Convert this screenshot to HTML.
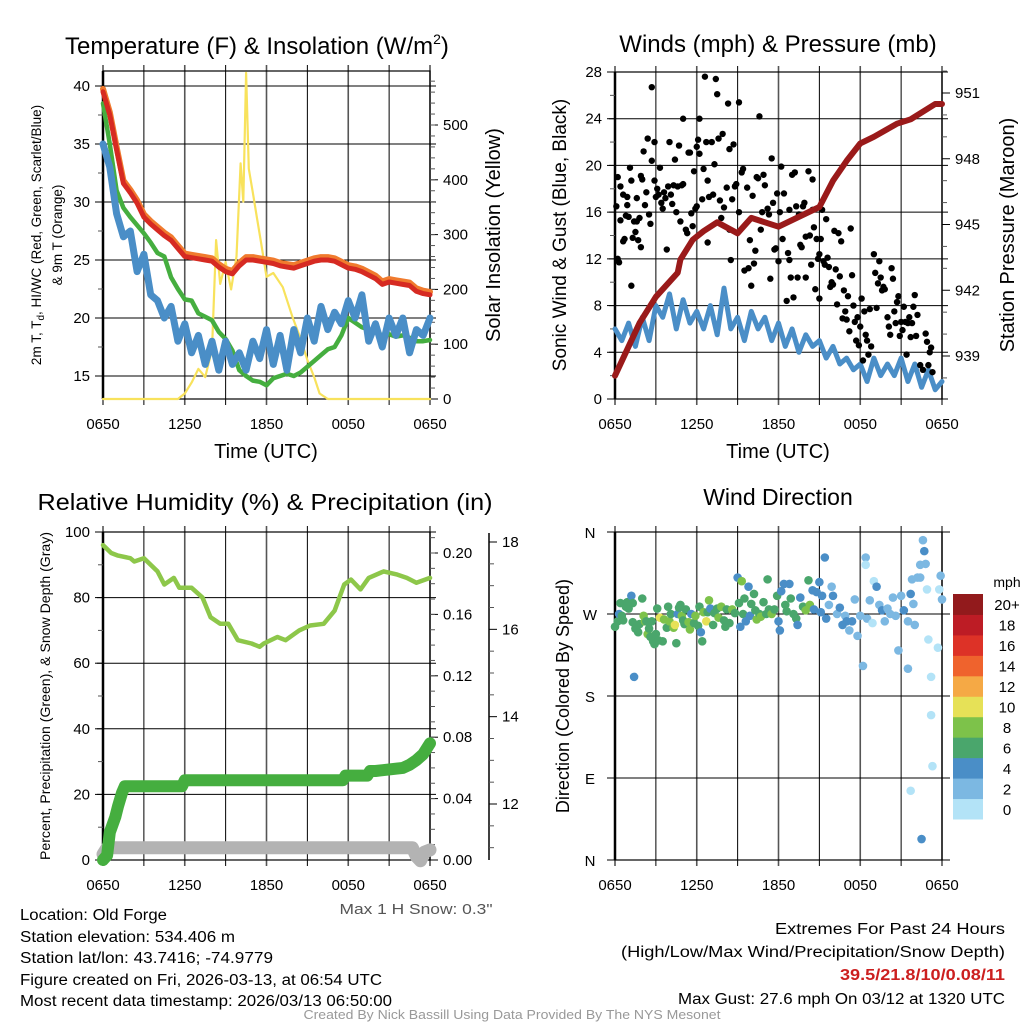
<!DOCTYPE html>
<html><head><meta charset="utf-8"><style>
html,body{margin:0;padding:0;background:#fff}
svg{display:block;font-family:"Liberation Sans",Arial,sans-serif}
</style></head><body>
<svg id="fig" xmlns="http://www.w3.org/2000/svg" width="1024" height="1024" viewBox="0 0 1024 1024"></svg>
<script>
// ===== Panel 1 data (hours since 0650 UTC) =====
const tHalf = [0,0.5,1,1.5,2,2.5,3,3.5,4,4.5,5,5.5,6,6.5,7,7.5,8,8.5,9,9.5,10,10.5,11,11.5,12,12.5,13,13.5,14,14.5,15,15.5,16,16.5,17,17.5,18,18.5,19,19.5,20,20.5,21,21.5,22,22.5,23,23.5,24];
const tempRed = [39.5,37.5,34.5,31.6,30.8,29.9,28.7,28.1,27.6,27.1,26.7,26.0,25.3,25.2,25.1,25.0,24.9,24.4,24.0,23.8,24.5,25.0,25.0,24.9,24.8,24.7,24.5,24.4,24.3,24.5,24.7,24.9,25.0,25.0,24.9,24.6,24.3,24.2,24.0,23.7,23.4,22.9,23.1,23.0,22.9,22.8,22.3,22.1,22.0];
const dewGreen = [38.5,35,31,29.5,28.7,28,27.3,26.5,25.6,25.3,23.5,22.5,21.6,21.5,20.4,20.1,19.8,18.8,18.2,17.2,15.5,15,14.6,14.5,14.2,14.8,15,15.2,15,15.3,15.8,16.3,16.8,17.3,17.5,18.5,20,19.6,19.2,19,18.8,18.5,18.6,18.4,18.5,18.3,18,18,18.1];
const wcBlue = [35,33,29,27,27.5,24,25.5,22,21.5,20,21,18,19.5,17,18.5,16,18,15.5,18,16,17,15.5,18,16.5,19,16,18.5,15.5,19,17,20,18,21,19,20.5,19.5,21.5,20,22,18,19.5,17.5,20,18.5,20,17,19,18.5,20];
const solarT = [0,5.5,6,6.5,7,7.5,8,8.3,8.6,9,9.4,9.8,10.1,10.3,10.5,10.7,11,11.3,11.6,12,12.5,13.2,13.9,14.5,15,15.5,15.9,16.5,24];
const solarV = [0,0,10,30,55,40,90,290,210,250,200,260,430,360,595,420,376,330,285,223,230,204,150,110,71,40,10,0,0];
// ===== Panel 2 data =====
const windBlue = [6,5,6.5,4.5,7,5,8,7,9,6,8.5,6.5,7.5,6,8,5.5,9.5,6,7,5,7.5,6,7,5,6.5,4.5,6,4,5.5,4.5,5,3.5,4.5,3,3.5,2.5,3,1.5,3.5,2,3,2,3.5,1.5,3,1,2.5,0.8,1.5];
const presT = [0,1.8,3,4.6,4.8,5.7,6.5,7.5,9,10,12,14,15,16,17,18,19,20.7,21.7,23.5,24];
const presV = [938.1,940.5,941.7,942.8,943.4,944.3,944.7,945.1,944.6,945.3,944.9,945.5,945.8,947.0,947.9,948.7,949.0,949.6,949.8,950.5,950.5];
const gustT = [0.1,0.2,0.2,0.3,0.4,0.4,0.6,0.7,0.6,0.8,0.9,0.9,1.0,1.1,1.2,1.2,1.3,1.4,1.5,1.6,1.6,1.7,1.8,1.9,1.9,2.0,2.1,2.2,2.3,2.4,2.5,2.6,2.7,2.7,2.9,2.9,3.0,3.1,3.2,3.3,3.4,3.5,3.6,3.7,3.8,3.9,4.0,4.1,4.2,4.3,4.4,4.5,4.6,4.7,4.8,4.9,5.0,5.0,5.2,5.3,5.4,5.5,5.6,5.7,5.8,5.9,6.0,6.0,6.1,6.2,6.2,6.4,6.5,6.6,6.7,6.8,6.8,6.9,7.1,7.2,7.3,7.4,7.5,7.6,7.7,7.8,7.9,8.0,8.2,8.3,8.4,8.4,8.5,8.6,8.7,8.8,8.9,9.1,9.1,9.3,9.4,9.5,9.7,9.8,9.9,10.0,10.1,10.2,10.3,10.4,10.5,10.6,10.7,10.8,10.9,11.0,11.2,11.3,11.4,11.5,11.6,11.7,11.8,11.9,12.0,12.1,12.2,12.3,12.4,12.6,12.7,12.8,12.8,12.9,13.0,13.1,13.2,13.3,13.4,13.5,13.6,13.7,13.8,13.9,14.0,14.0,14.2,14.3,14.4,14.5,14.5,14.6,14.7,14.8,14.9,15.0,15.0,15.1,15.2,15.3,15.4,15.5,15.6,15.7,15.8,15.9,16.0,16.1,16.2,16.3,16.4,16.5,16.6,16.7,16.8,16.9,17.0,17.1,17.2,17.3,17.4,17.5,17.6,17.7,17.8,17.9,18.0,18.1,18.2,18.3,18.4,18.5,18.6,18.7,18.8,19.0,19.1,19.2,19.3,19.4,19.5,19.6,19.7,19.8,20.0,20.1,20.2,20.3,20.4,20.5,20.6,20.7,20.8,20.9,21.0,21.1,21.2,21.3,21.4,21.5,21.6,21.7,21.8,21.9,22.0,22.1,22.2,22.4,22.6,22.8,22.9,23.0,23.1,23.2,23.3];
const gustV = [16.5,19,12,11.7,15.3,18.2,13.5,13.7,17.5,15.7,16.6,17.3,15.6,19.8,18.7,9.7,13.8,15.2,14.3,17.2,15.2,13.6,15.5,13,19.1,18.8,21.2,16.6,17.7,22.3,15.8,15,26.7,20.4,18.7,22,17.3,18,17.5,19.8,16.8,16.3,17.7,17.2,12.8,18.2,22,17.5,16.7,18.3,20.5,16,18.2,21.7,15.2,18.3,18.4,24,14.5,14.2,21.1,21.1,15.9,14.8,19.5,16.3,16.5,21.6,22.2,24,21,17.1,19.7,27.6,22,18.7,13.4,17.3,22,17.5,20.1,27.4,26.1,22.3,17,15.5,22.7,16.4,18.1,25.3,14.5,21.4,11.9,17.1,21.8,18.2,18.4,25.4,16,19.4,19.7,11,18.1,11.2,13.6,9.7,17.4,11.6,12.7,19,18.9,24.2,14.5,16,19.2,18.3,16.3,15.8,10.3,20.6,16.8,12.8,12.9,17.6,11.8,16,19.9,13.7,17.6,8.4,12.5,11.9,16.2,10.4,19.2,8.7,19.4,16.5,10.4,15.8,13.2,13,16.5,16.8,10.4,13.9,19.5,14,11.5,16.2,18.8,14.7,9.4,13.7,12,12.4,8.6,13.7,16.2,11.8,11.5,15.4,12.1,11.3,9.6,10,9.8,14.4,11.1,8.1,14.2,10.5,13.5,6.9,9.3,7.5,6.8,8.8,5.8,14.6,10.6,8,6.6,5,7,4.6,6.2,8.6,3.3,7.5,5.5,5,3.8,7.7,4.5,12.4,10.8,7.8,9.9,11.8,10.4,9.3,9.6,9.4,7,6.2,5.5,11.2,10.3,7.5,6.5,8.3,8.8,5.4,6.6,5.9,7.9,6.6,3.8,6.5,7,5.3,6.5,7.9,8.9,5.4,7.2,2.9,2.5,5.6,4.9,2.9,4,4.4,2.3];
// ===== Panel 3 data =====
const rhT = [0,0.6,1.1,2.0,2.3,3.0,4,4.5,5.2,5.6,6.5,7.3,7.9,8.6,9.2,9.9,10.9,11.5,11.8,12.8,13.4,14.4,15.2,16.2,17.0,17.7,18.2,18.9,19.5,20.6,21.6,22.3,23.0,24];
const rhV = [96,93.6,92.8,92,91,92,88,84,86,83,83,80,74,72,72,67,66,65,66,68,67,70,71.5,72,76,84,85.5,82.5,86,88,87,86,84.5,86];
const precipT = [0,0.3,0.5,0.9,1.1,1.4,1.6,5.8,6.0,17.6,17.8,19.4,19.6,20.0,22.0,22.5,23.0,23.5,24];
const precipV = [0,0.003,0.018,0.028,0.035,0.044,0.048,0.048,0.052,0.052,0.055,0.055,0.058,0.058,0.060,0.062,0.065,0.069,0.076];
const snowT = [0,0.3,22.7,23.0,23.3,23.6,24];
const snowV = [10.85,11,11,10.8,10.7,10.9,10.95];
// ===== Panel 4 data =====
const dirT = [0.0,0.2,0.3,0.4,0.5,0.6,0.8,0.9,1.0,1.1,1.2,1.3,1.3,1.4,1.5,1.6,1.7,1.8,2.0,2.1,2.2,2.3,2.4,2.5,2.6,2.7,2.8,2.9,3.0,3.1,3.2,3.3,3.5,3.6,3.8,3.9,4.0,4.1,4.3,4.4,4.5,4.6,4.7,4.8,4.9,5.0,5.1,5.2,5.4,5.5,5.6,5.8,5.9,6.1,6.2,6.3,6.4,6.5,6.7,6.8,6.9,7.0,7.2,7.3,7.5,7.6,7.8,8.0,8.1,8.2,8.4,8.6,8.8,9.0,9.1,9.2,9.3,9.4,9.5,9.6,9.8,9.9,10.0,10.2,10.3,10.4,10.6,10.7,10.9,11.1,11.2,11.3,11.5,11.7,11.9,12.0,12.1,12.2,12.4,12.5,12.6,12.8,12.9,13.1,13.3,13.4,13.6,13.8,14.0,14.2,14.3,14.5,14.6,14.8,15.0,15.1,15.2,15.4,15.5,15.7,15.9,16.0,16.3,16.5,16.7,16.9,17.0,17.2,17.4,17.6,17.8,18.0,18.2,18.4,18.4,18.5,18.7,18.9,19.0,19.2,19.4,19.6,19.8,20.0,20.2,20.4,20.6,20.8,21.0,21.2,21.5,21.5,21.7,21.7,21.8,21.9,22.0,22.2,22.4,22.4,22.5,22.6,22.7,22.8,22.9,23.0,23.2,23.3,23.2,23.7,23.8,23.9,24.0];
const dirV = [256,262,270,282,268,263,278,283,276,283,290,282,261,201,254,256,250,259,287,268,262,262,248,254,245,262,240,237,248,276,241,266,240,264,255,278,262,270,255,258,238,270,277,280,268,263,259,275,261,253,270,260,268,257,278,250,240,272,262,272,285,276,258,271,276,266,278,263,256,275,260,275,271,310,282,256,306,270,287,262,300,268,281,292,274,264,270,267,283,270,308,275,270,275,290,262,252,295,303,280,273,303,287,270,265,258,288,278,274,307,280,296,275,294,305,272,290,332,265,280,300,290,270,277,258,268,262,252,262,286,246,268,213,332,324,265,285,260,306,300,280,274,262,276,270,288,268,230,290,274,262,210,292,76,308,281,258,310,310,324,23,351,339,325,297,242,159,103,201,233,297,312,286,294];
const dirS = [6.5,6.5,4.5,6.5,6.5,6.5,7,6.5,6.5,6.5,4.5,7,6.5,4.5,6.5,6.5,6.5,6.5,6.5,8.5,8.5,6.5,8.5,6.5,6.5,6.5,6.5,6.5,6.5,6.5,6.5,10.5,6.5,8.5,6.5,6.5,8.5,6.5,8.5,10.5,6.5,4.5,6.5,6.5,8.5,6.5,6.5,6.5,8.5,8.5,4.5,6.5,8.5,6.5,6.5,4.5,6.5,8.5,10.5,6.5,8.5,4.5,6.5,6.5,6.5,8.5,8.5,6.5,6.5,6.5,6.5,8.5,6.5,4.5,6.5,4.5,8.5,6.5,6.5,4.5,4.5,4.5,6.5,6.5,6.5,8.5,6.5,8.5,6.5,6.5,6.5,6.5,8.5,6.5,6.5,4.5,4.5,4.5,4.5,6.5,6.5,4.5,6.5,6.5,6.5,4.5,4.5,6.5,8.5,6.5,8.5,4.5,4.5,4.5,4.5,4.5,4.5,4.5,4.5,2.5,2.5,4.5,2.5,4.5,4.5,2.5,4.5,2.5,4.5,2.5,2.5,2.5,2.5,2.5,1.5,2.5,2.5,1.5,1.5,4.5,2.5,4.5,2.5,2.5,2.5,2.5,2.5,2.5,2.5,4.5,2.5,2.5,4.5,1.5,2.5,2.5,2.5,2.5,2.5,2.5,4.5,2.5,4.5,2.5,1.5,1.5,1.5,1.5,1.5,1.5,1.5,2.5,2.5,2.5];
const speedBinLabels = ["0","2","4","6","8","10","12","14","16","18","20+"];
const speedBinColors = ["#b3e3f7","#7cb8e2","#4a8ec7","#4aa66c","#7dc24a","#e6e157","#f5a945","#ef632d","#dd3227","#bd1c25","#921a1c"];
const timeLabels = ["0650","1250","1850","0050","0650"];

// ===== drawing =====
const NS="http://www.w3.org/2000/svg";
const svg=document.getElementById('fig');
function el(tag,attrs,parent){const e=document.createElementNS(NS,tag);for(const k in attrs)e.setAttribute(k,attrs[k]);(parent||svg).appendChild(e);return e;}
function txt(s,attrs,parent){const e=el('text',attrs,parent);e.textContent=s;return e;}
function linear(d0,d1,r0,r1){return v=>r0+(v-d0)/(d1-d0)*(r1-r0);}

function frame(x0,x1,y0,y1,name,xlabels){
  const g=el('g',{});
  
  
  for(let i=0;i<=8;i++){
    const x=x0+(x1-x0)*i/8;
    el('line',{x1:x,y1:y0-6,x2:x,y2:y1+6,stroke:i%2?'#000':'#555','stroke-width':i%2?1:1.6},g);
    if(xlabels && i%2===0){
      const t=txt(timeLabels[i/2],{x:x,y:y1+30,'text-anchor':'middle','font-size':15},g);
      
      
    }
  }
  el('rect',{x:x0,y:y0,width:x1-x0,height:y1-y0,fill:'none',stroke:'#000','stroke-width':1.2},g);
  el('line',{x1:x0,y1:y0,x2:x0,y2:y1,stroke:'#000','stroke-width':2.5},g);
  return g;
}
function yaxis(g,x,ys,vals,fmt,side,grid,x1,minors){
  vals.forEach(v=>{const y=ys(v);
    if(grid) el('line',{x1:x-(side<0?6:0),y1:y,x2:x1+(side<0?6:0),y2:y,stroke:'#000','stroke-width':1},g);
    el('line',{x1:x,y1:y,x2:x+side*8,y2:y,stroke:'#000','stroke-width':1},g);
    const t=txt(fmt(v),{x:x+side*13,y:y+5,'text-anchor':side<0?'end':'start','font-size':15},g);
    
    
  });
  (minors||[]).forEach(v=>{const y=ys(v);el('line',{x1:x,y1:y,x2:x+side*5,y2:y,stroke:'#555','stroke-width':1},g);});
}
function range(a,b,s){const r=[];for(let v=a;v<=b+1e-9;v+=s)r.push(+v.toFixed(4));return r;}
function poly(xs,ys,tArr,vArr,attrs,name,parent){
  const pts=tArr.map((t,i)=>xs(t).toFixed(1)+','+ys(vArr[i]).toFixed(1)).join(' ');
  const p=el('polyline',Object.assign({points:pts,fill:'none','stroke-linejoin':'round','stroke-linecap':'round'},attrs),parent);
  
  
  return p;
}
function title(s,x,y,size,len,name,rot){
  const a={x:x,y:y,'text-anchor':'middle','font-size':size};
  if(len){a.textLength=len;a.lengthAdjust='spacingAndGlyphs';}
  if(rot) a.transform='rotate(-90 '+x+' '+y+')';
  const t=txt(s,a);
  
  
  return t;
}

// ---- Panel 1 ----
{
const X0=103,X1=430,Y0=71,Y1=399;
const xs=linear(0,24,X0,X1);
const ys=linear(40,15,86,376);
const ss=linear(0,500,399,125);
const g=frame(X0,X1,Y0,Y1,'temperature-panel',true);
yaxis(g,X0,ys,[15,20,25,30,35,40],v=>v,-1,true,X1,[17.5,22.5,27.5,32.5,37.5]);
yaxis(g,X1,ss,[0,100,200,300,400,500],v=>v,1,false,X1,range(20,580,20));
const pg=el('g',{});
poly(xs,ss,solarT,solarV,{stroke:'#f8e25c','stroke-width':2.2},'solar-insolation-line',pg);
poly(xs,ys,tHalf,dewGreen,{stroke:'#45ae3f','stroke-width':4.5},'dewpoint-line',pg);
poly(xs,ys,tHalf,wcBlue,{stroke:'#4a8ec7','stroke-width':7},'wind-chill-line',pg);
poly(xs,ys,tHalf,tempRed.map(v=>v+0.25),{stroke:'#f07b2e','stroke-width':6},'9m-temperature-line',pg);
poly(xs,ys,tHalf,tempRed,{stroke:'#d62a22','stroke-width':5},'2m-temperature-line',pg);
const tt=el('text',{x:65,y:54,'font-size':24});


tt.innerHTML='Temperature (F) &amp; Insolation (W/m<tspan font-size="14" dy="-10">2</tspan><tspan dy="10">)</tspan>';
title('Time (UTC)',266,458,20,0,'x-axis-title');
const tl=el('text',{transform:'rotate(-90 41 235)',x:41,y:235,'font-size':13.5,'text-anchor':'middle'});


tl.innerHTML='2m T, T<tspan font-size="10" dy="3">d</tspan><tspan dy="-3">, HI/WC (Red, Green, Scarlet/Blue)</tspan>';
title('& 9m T (Orange)',62,235,13.5,0,'y-axis-title-left-line2',true);
title('Solar Insolation (Yellow)',500,235,20,0,'y-axis-title-right',true);
}
// ---- Panel 2 ----
{
const X0=615,X1=942,Y0=72,Y1=399;
const xs=linear(0,24,X0,X1);
const ws=linear(0,28,399,72);
const ps=linear(951,939,93,356);
const g=frame(X0,X1,Y0,Y1,'wind-panel',true);
yaxis(g,X0,ws,[0,4,8,12,16,20,24,28],v=>v,-1,true,X1,[2,6,10,14,18,22,26]);
yaxis(g,X1,ps,[939,942,945,948,951],v=>v,1,false,X1,[938,940,941,943,944,946,947,949,950,952]);
poly(xs,ws,tHalf,windBlue,{stroke:'#4a8ec7','stroke-width':5},'sonic-wind-line');
const gg=el('g',{});


gustT.forEach((t,i)=>{const c=el('circle',{cx:xs(t),cy:ws(gustV[i]),r:3.2,fill:'#000'},gg);

});
poly(xs,ps,presT,presV,{stroke:'#9a1a1a','stroke-width':6},'station-pressure-line');
title('Winds (mph) & Pressure (mb)',778,52,24,0,'wind-chart-title');
title('Time (UTC)',778,458,20,0,'x-axis-title');
title('Sonic Wind & Gust (Blue, Black)',566,235,19,0,'y-axis-title-left',true);
title('Station Pressure (Maroon)',1014,235,20,0,'y-axis-title-right',true);
}
// ---- Panel 3 ----
{
const X0=103,X1=430,Y0=532,Y1=860;
const xs=linear(0,24,X0,X1);
const rs=linear(0,100,860,532);
const prs=linear(0,0.2,860,553);
const sns=linear(18,12,542,804);
const g=frame(X0,X1,Y0,Y1,'humidity-panel',true);
yaxis(g,X0,rs,[0,20,40,60,80,100],v=>v,-1,true,X1,[10,30,50,70,90]);
yaxis(g,X1,prs,[0,0.04,0.08,0.12,0.16,0.20],v=>v.toFixed(2),1,false,X1,range(0.01,0.21,0.01));
el('line',{x1:489,y1:533,x2:489,y2:860,stroke:'#000','stroke-width':1.5},g);
yaxis(g,489,sns,[12,14,16,18],v=>v,1,false,489,[11,11.5,12.5,13,13.5,14.5,15,15.5,16.5,17,17.5]);
poly(xs,sns,snowT,snowV,{stroke:'#b3b3b3','stroke-width':13},'snow-depth-line');
poly(xs,prs,precipT,precipV,{stroke:'#45ae3f','stroke-width':12},'precipitation-line');
poly(xs,rs,rhT,rhV,{stroke:'#8dc74a','stroke-width':4.5},'relative-humidity-line');
title('Relative Humidity (%) & Precipitation (in)',265,510,23,455,'humidity-chart-title');
title('Percent, Precipitation (Green), & Snow Depth (Gray)',50,696,14,328,'y-axis-title-left',true);
const t=txt('Max 1 H Snow: 0.3"',{x:416,y:914,'text-anchor':'middle','font-size':15,fill:'#555',textLength:153,lengthAdjust:'spacingAndGlyphs'});


}
// ---- Panel 4 ----
{
const X0=615,X1=942,Y0=532,Y1=860;
const xs=linear(0,24,X0,X1);
const ds=linear(0,360,860,532);
const g=frame(X0,X1,Y0,Y1,'wind-direction-panel',true);
[['N',360],['W',270],['S',180],['E',90],['N',0]].forEach(([l,v])=>{const y=ds(v);
 el('line',{x1:X0-8,y1:y,x2:X1+8,y2:y,stroke:'#000','stroke-width':1},g);
 const t=txt(l,{x:590,y:y+6,'text-anchor':'middle','font-size':15},g);
 
 });
const dg=el('g',{});


dirT.forEach((t,i)=>{const bin=Math.min(10,Math.floor(dirS[i]/2));
 const c=el('circle',{cx:xs(t),cy:ds(dirV[i]),r:4.3,fill:speedBinColors[bin]},dg);
 
 });
title('Wind Direction',778,505,23,0,'wind-direction-title');
title('Direction (Colored By Speed)',569,696,18,0,'y-axis-title-left',true);
const lg=el('g',{});


const bh=(819-594)/11;
speedBinLabels.forEach((l,i)=>{const y=819-(i+1)*bh;
 const r=el('rect',{x:953,y:y,width:30,height:bh+0.5,fill:speedBinColors[i]},lg);
 
 
 txt(l,{x:1007,y:y+bh/2+6,'text-anchor':'middle','font-size':15},lg);});
txt('mph',{x:1007,y:587,'text-anchor':'middle','font-size':14},lg);
}
// ---- footer ----
[['Location: Old Forge',920,147],['Station elevation: 534.406 m',942,215],['Station lat/lon: 43.7416; -74.9779',963,253],['Figure created on Fri, 2026-03-13, at 06:54 UTC',985,362],['Most recent data timestamp: 2026/03/13 06:50:00',1006,372]].forEach(([s,y,w])=>{
 const t=txt(s,{x:20,y:y,'font-size':15.5,textLength:w,lengthAdjust:'spacingAndGlyphs'});
 
 });
[['Extremes For Past 24 Hours',934,230,'#000','normal'],['(High/Low/Max Wind/Precipitation/Snow Depth)',957,384,'#000','normal'],['39.5/21.8/10/0.08/11',980,165,'#cc1f1f','bold'],['Max Gust: 27.6 mph On 03/12 at 1320 UTC',1004,327,'#000','normal']].forEach(([s,y,w,c,fw])=>{
 const t=txt(s,{x:1005,y:y,'text-anchor':'end','font-size':15.5,fill:c,'font-weight':fw,textLength:w,lengthAdjust:'spacingAndGlyphs'});
 
 });
{const t=txt('Created By Nick Bassill Using Data Provided By The NYS Mesonet',{x:512,y:1019,'text-anchor':'middle','font-size':12.5,fill:'#999',textLength:417,lengthAdjust:'spacingAndGlyphs'});

}
</script>
</body></html>
